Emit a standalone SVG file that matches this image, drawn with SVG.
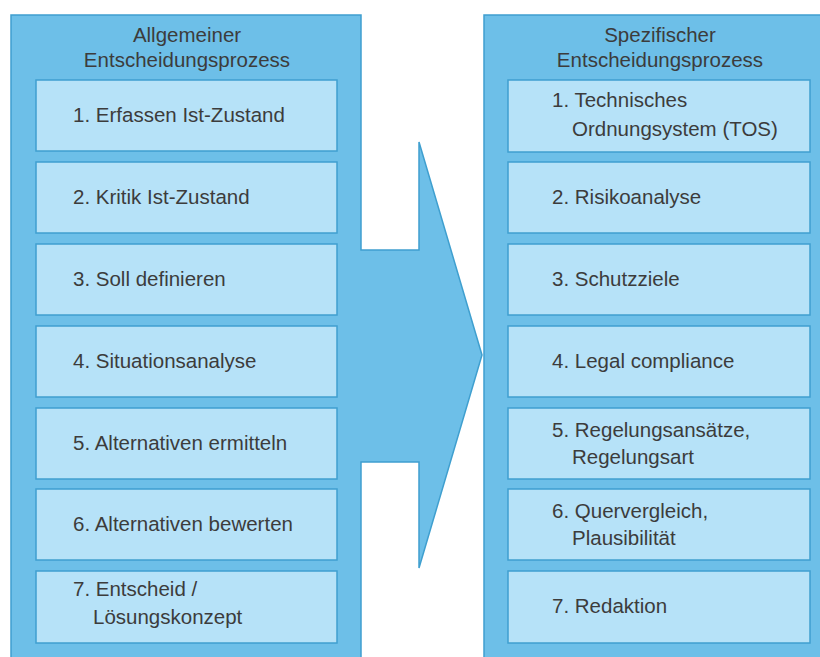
<svg xmlns="http://www.w3.org/2000/svg" width="820" height="657" viewBox="0 0 820 657">
  <style>
    .panel { fill: #6dbfe8; stroke: #3f9fcf; stroke-width: 1.5; }
    .step { fill: #b6e2f8; stroke: #3f9fcf; stroke-width: 1.5; }
    text { font-family: "Liberation Sans", Arial, sans-serif; font-size: 20.5px; fill: #3c3c3c; }
    .title { text-anchor: middle; }
  </style>
  <rect width="820" height="657" fill="#ffffff"/>

  <!-- left panel joined with the transition arrow -->
  <g id="panel-general">
    <polygon class="panel" points="11,15 361,15 361,250 419,250 419,142 482,355 419,568 419,462 361,462 361,670 11,670"/>
    <text class="title" x="187" y="42">Allgemeiner</text>
    <text class="title" x="187" y="67">Entscheidungsprozess</text>
  </g>

  <g id="panel-specific">
    <rect class="panel" x="484" y="15" width="350" height="655"/>
    <text class="title" x="660" y="42">Spezifischer</text>
    <text class="title" x="660" y="67">Entscheidungsprozess</text>
  </g>

  <!-- general process steps -->
  <g id="g1"><rect class="step" x="36" y="80" width="301" height="71"/><text x="73" y="122">1. Erfassen Ist-Zustand</text></g>
  <g id="g2"><rect class="step" x="36" y="162" width="301" height="71"/><text x="73" y="204">2. Kritik Ist-Zustand</text></g>
  <g id="g3"><rect class="step" x="36" y="244" width="301" height="71"/><text x="73" y="286">3. Soll definieren</text></g>
  <g id="g4"><rect class="step" x="36" y="326" width="301" height="71"/><text x="73" y="368">4. Situationsanalyse</text></g>
  <g id="g5"><rect class="step" x="36" y="408" width="301" height="71"/><text x="73" y="450">5. Alternativen ermitteln</text></g>
  <g id="g6"><rect class="step" x="36" y="489" width="301" height="71"/><text x="73" y="531">6. Alternativen bewerten</text></g>
  <g id="g7"><rect class="step" x="36" y="571" width="301" height="72"/><text x="73" y="596">7. Entscheid /</text><text x="93" y="624">Lösungskonzept</text></g>

  <!-- specific process steps -->
  <g id="s1"><rect class="step" x="508" y="80" width="302" height="72"/><text x="552" y="107">1. Technisches</text><text x="572" y="136">Ordnungsystem (TOS)</text></g>
  <g id="s2"><rect class="step" x="508" y="162" width="302" height="71"/><text x="552" y="204">2. Risikoanalyse</text></g>
  <g id="s3"><rect class="step" x="508" y="244" width="302" height="71"/><text x="552" y="286">3. Schutzziele</text></g>
  <g id="s4"><rect class="step" x="508" y="326" width="302" height="71"/><text x="552" y="368">4. Legal compliance</text></g>
  <g id="s5"><rect class="step" x="508" y="408" width="302" height="71"/><text x="552" y="437">5. Regelungsansätze,</text><text x="572" y="464">Regelungsart</text></g>
  <g id="s6"><rect class="step" x="508" y="489" width="302" height="71"/><text x="552" y="518">6. Quervergleich,</text><text x="572" y="545">Plausibilität</text></g>
  <g id="s7"><rect class="step" x="508" y="571" width="302" height="72"/><text x="552" y="613">7. Redaktion</text></g>

  <g id="connectors"/>
</svg>
